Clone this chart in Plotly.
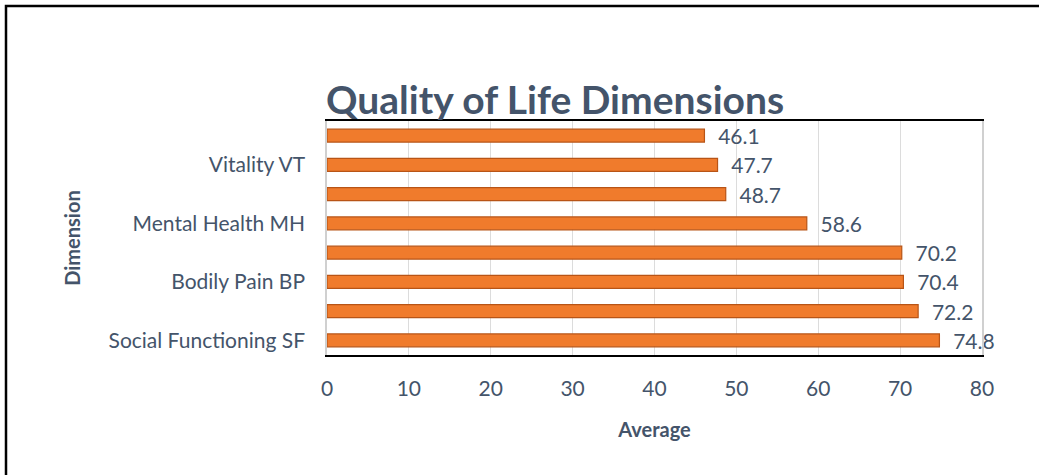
import plotly.graph_objects as go

# Categories from bottom to top (only every other label is shown on the axis)
categories = [
    "Social Functioning SF",
    "Physical Functioning PF",
    "Bodily Pain BP",
    "Role Physical RP",
    "Mental Health MH",
    "General Health GH",
    "Vitality VT",
    "Role Emotional RE",
]
values = [74.8, 72.2, 70.4, 70.2, 58.6, 48.7, 47.7, 46.1]
shown_labels = ["Social Functioning SF", "Bodily Pain BP", "Mental Health MH", "Vitality VT"]
x_ticks = [0, 10, 20, 30, 40, 50, 60, 70, 80]

TEXT = "#44546A"
FONT = "Lato"

fig = go.Figure()
fig.add_trace(go.Bar(
    x=values,
    y=categories,
    orientation="h",
    marker=dict(color="#F07B2C", line=dict(color="#B85416", width=1.2)),
    text=[f"  {v:.1f}" for v in values],
    textposition="outside",
    constraintext="none",
    textfont=dict(family=FONT, size=21, color=TEXT),
    cliponaxis=False,
))

fig.update_layout(
    width=1039, height=475,
    margin=dict(l=327, r=57, t=121, b=120),
    paper_bgcolor="white", plot_bgcolor="white",
    showlegend=False,
    bargap=0.56,
    title=dict(
        text="<b>Quality of Life Dimensions</b>",
        font=dict(family=FONT, size=39, color=TEXT),
        x=326 / 1039, xanchor="left", xref="container",
        y=1 - 100 / 475, yanchor="middle", yref="container",
    ),
    xaxis=dict(
        range=[0, 80], tickvals=x_ticks,
        showgrid=True, gridcolor="#DCDCDC", gridwidth=1,
        showline=True, linecolor="black", linewidth=2, mirror=True,
        ticks="outside", ticklen=14, tickcolor="rgba(0,0,0,0)",
        tickfont=dict(family=FONT, size=21, color=TEXT),
        zeroline=False,
        title=dict(text="<b>Average</b>", font=dict(family=FONT, size=20, color=TEXT), standoff=24),
    ),
    yaxis=dict(
        categoryorder="array", categoryarray=categories,
        tickvals=shown_labels,
        showline=True, linecolor="#D0D0D0", linewidth=1.5, mirror=True,
        ticks="outside", ticklen=16, tickcolor="rgba(0,0,0,0)",
        tickfont=dict(family=FONT, size=21, color=TEXT),
        showgrid=False,
        title=dict(text="<b>Dimension</b>", font=dict(family=FONT, size=20, color=TEXT), standoff=23),
    ),
    shapes=[dict(
        type="rect", xref="paper", yref="paper",
        x0=-321 / 655, x1=1.2, y0=-0.7, y1=1 + 115 / 234,
        line=dict(color="black", width=2.5), fillcolor="rgba(0,0,0,0)", layer="below",
    )],
)

fig.write_html("out.html")
